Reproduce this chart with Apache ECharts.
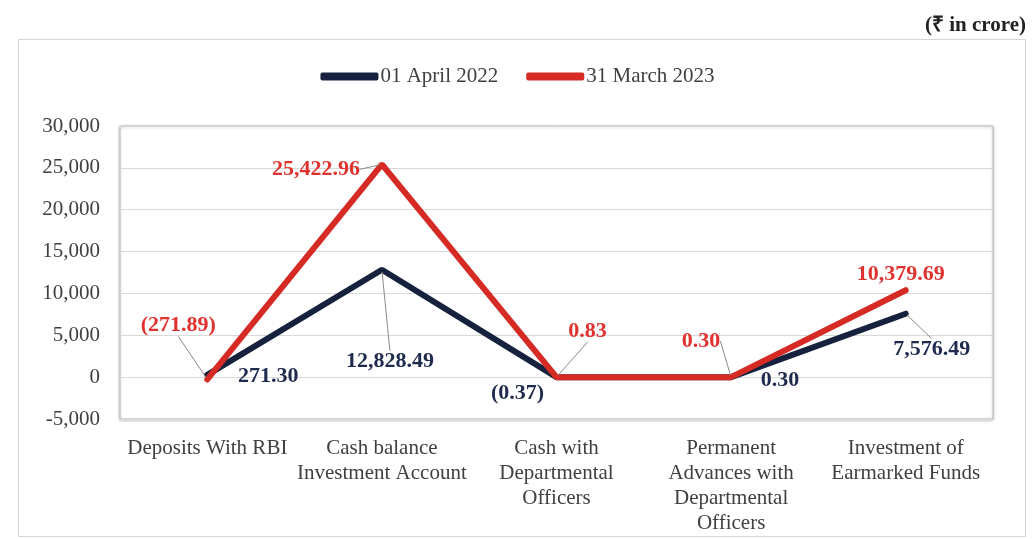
<!DOCTYPE html>
<html>
<head>
<meta charset="utf-8">
<script src="https://cdn.jsdelivr.net/npm/echarts@6/dist/echarts.min.js"></script>
<style>
  html,body{margin:0;padding:0;background:#fff;}
  #main{width:1035px;height:539px;}
</style>
</head>
<body>
<div id="main"></div>
<script>
var categories=['Deposits With RBI','Cash balance\nInvestment Account','Cash with\nDepartmental\nOfficers','Permanent\nAdvances with\nDepartmental\nOfficers','Investment of\nEarmarked Funds'];
var april2022=[271.30,12828.49,-0.37,0.30,7576.49];
var march2023=[-271.89,25422.96,0.83,0.30,10379.69];
var april2022Text=['271.30','12,828.49','(0.37)','0.30','7,576.49'];
var march2023Text=['(271.89)','25,422.96','0.83','0.30','10,379.69'];
var yTicks=[-5000,0,5000,10000,15000,20000,25000,30000];

// label placement (shift from point, guide line on/off)
var navyOffsets=[[61,1],[8,92],[-39,16],[49,3],[26,36]];
var navyLines=[false,true,false,false,true];
var redOffsets=[[-29,-54],[-66,5],[31,-46],[-30,-36],[-5,-16]];
var redLines=[true,true,true,true,false];

var navy='#16223d', red='#d52b24';
var fontFam='"Liberation Serif","Times New Roman",serif';

function buildData(vals,texts,lines,color){
  var out=[];
  for(var i=0;i<vals.length;i++){
    out.push({
      value:vals[i],
      label:{show:true,position:'inside',formatter:texts[i],
        color:color,fontFamily:fontFam,fontWeight:'bold',fontSize:22,lineHeight:22},
      labelLine:{show:lines[i],smooth:false,lineStyle:{color:'#8a8a8a',width:1}}
    });
  }
  return out;
}
function shifter(offs){
  return function(p){
    var o=offs[p.dataIndex];
    return {dx:o[0],dy:o[1]};
  };
}

var chart=echarts.init(document.getElementById('main'),null,{renderer:'canvas'});
var option={
  animation:false,
  backgroundColor:'#fff',
  title:{text:'(₹ in crore)',right:4,top:10,
    textStyle:{fontFamily:fontFam,fontWeight:'bold',fontSize:21,color:'#222'}},
  graphic:[{type:'rect',left:16,top:37,shape:{width:1007,height:497},
    style:{fill:'none',stroke:'#d6d6d6',lineWidth:1},silent:true}],
  legend:{top:61,left:'center',itemWidth:58,itemHeight:8,itemGap:28,
    textStyle:{fontFamily:fontFam,fontSize:21,color:'#404040',padding:[0,0,0,-3]},
    data:[{name:'01 April 2022',icon:'roundRect'},{name:'31 March 2023',icon:'roundRect'}]},
  grid:{left:120,right:42,top:126,bottom:120,show:true,borderColor:'#b8b8b8',borderWidth:1,
    shadowColor:'rgba(0,0,0,0.25)',shadowBlur:3,shadowOffsetY:1,backgroundColor:'#fff'},
  xAxis:{type:'category',data:categories,boundaryGap:true,
    axisLine:{show:false},axisTick:{show:false},
    axisLabel:{interval:0,margin:17,fontFamily:fontFam,fontSize:21,color:'#404040',lineHeight:25}},
  yAxis:{type:'value',min:yTicks[0],max:yTicks[yTicks.length-1],interval:5000,
    axisLine:{show:false},axisTick:{show:false},
    splitLine:{lineStyle:{color:'#d9d9d9',width:1}},
    axisLabel:{margin:20,fontFamily:fontFam,fontSize:21,color:'#404040',
      formatter:function(v){return v.toLocaleString('en-US');}}},
  series:[
    {name:'01 April 2022',type:'line',data:buildData(april2022,april2022Text,navyLines,'#1f2b4e'),
      symbol:'circle',symbolSize:4,showSymbol:true,color:navy,
      labelLayout:shifter(navyOffsets),
      lineStyle:{width:6,color:navy,cap:'round'},itemStyle:{color:navy},z:2},
    {name:'31 March 2023',type:'line',data:buildData(march2023,march2023Text,redLines,'#e0332f'),
      symbol:'circle',symbolSize:4,showSymbol:true,color:red,
      labelLayout:shifter(redOffsets),
      lineStyle:{width:6,color:red,cap:'round'},itemStyle:{color:red},z:3}
  ]
};
chart.setOption(option);
</script>
</body>
</html>
